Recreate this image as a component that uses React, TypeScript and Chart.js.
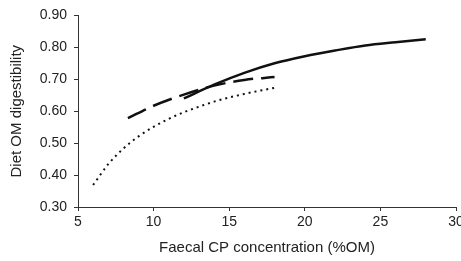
import React, { useEffect, useRef } from "react";
import { Chart, registerables } from "chart.js";

Chart.register(...registerables);

const solidX = [12, 14, 16, 18, 20, 22, 24, 26, 28];
const solidY = [0.64, 0.683, 0.72, 0.75, 0.772, 0.79, 0.806, 0.816, 0.825];

const dashedX = [8.3, 10, 12, 14, 16, 18];
const dashedY = [0.578, 0.617, 0.652, 0.68, 0.698, 0.707];

const dottedX = [6, 7, 8, 9, 10, 11, 12, 13, 14, 15, 16, 17, 18];
const dottedY = [0.369, 0.434, 0.483, 0.521, 0.551, 0.576, 0.597, 0.614, 0.63, 0.643, 0.654, 0.664, 0.673];

const xTicks = [5, 10, 15, 20, 25, 30];
const yTicks = [0.3, 0.4, 0.5, 0.6, 0.7, 0.8, 0.9];

const xTitle = "Faecal CP concentration (%OM)";
const yTitle = "Diet OM digestibility";

const toPoints = (xs: number[], ys: number[]) => xs.map((x, i) => ({ x, y: ys[i] }));

export default function App() {
  const ref = useRef<HTMLCanvasElement | null>(null);

  useEffect(() => {
    if (!ref.current) return;
    const family = "'Liberation Sans', Arial, sans-serif";
    const tickFont = { family, size: 14 };
    const titleFont = { family, size: 15 };
    const axisColor = "#333";
    const chart = new Chart(ref.current, {
      type: "line",
      data: {
        datasets: [
          {
            data: toPoints(solidX, solidY),
            borderColor: "#111",
            borderWidth: 2.5,
            pointRadius: 0,
            cubicInterpolationMode: "monotone",
          },
          {
            data: toPoints(dashedX, dashedY),
            borderColor: "#111",
            borderWidth: 2.5,
            borderDash: [20, 8],
            borderCapStyle: "butt",
            pointRadius: 0,
            cubicInterpolationMode: "monotone",
          },
          {
            data: toPoints(dottedX, dottedY),
            borderColor: "#111",
            borderWidth: 2,
            borderDash: [2, 4],
            borderCapStyle: "butt",
            pointRadius: 0,
            cubicInterpolationMode: "monotone",
          },
        ],
      },
      options: {
        animation: false,
        responsive: false,
        maintainAspectRatio: false,
        events: [],
        layout: { padding: { top: 14, right: 5, left: 0, bottom: 0 } },
        plugins: { legend: { display: false }, tooltip: { enabled: false } },
        scales: {
          x: {
            type: "linear",
            min: 5,
            max: 30,
            afterBuildTicks: (s: any) => {
              s.ticks = xTicks.map((v) => ({ value: v }));
            },
            afterFit: (s: any) => {
              s.height = 54;
              s.paddingLeft = 0;
              s.paddingRight = 0;
            },
            grid: { drawOnChartArea: false, drawTicks: true, tickLength: 4, color: axisColor },
            border: { display: true, color: axisColor, width: 1 },
            ticks: { color: "#222", font: tickFont, padding: 3, maxRotation: 0, callback: (v: any) => String(v) },
            title: { display: true, text: xTitle, color: "#222", font: titleFont, padding: { top: 0, bottom: 4 } },
          },
          y: {
            type: "linear",
            min: 0.3,
            max: 0.9,
            afterBuildTicks: (s: any) => {
              s.ticks = yTicks.map((v) => ({ value: v }));
            },
            afterFit: (s: any) => {
              s.width = 78;
            },
            grid: { drawOnChartArea: false, drawTicks: true, tickLength: 4, color: axisColor },
            border: { display: true, color: axisColor, width: 1 },
            ticks: { color: "#222", font: tickFont, padding: 7, callback: (v: any) => Number(v).toFixed(2) },
            title: { display: true, text: yTitle, color: "#222", font: titleFont, padding: { top: 8, bottom: 0 } },
          },
        },
      },
    } as any);
    return () => chart.destroy();
  }, []);

  return (
    <div style={{ position: "fixed", left: 0, top: 0, width: 461, height: 261, background: "#fff" }}>
      <canvas ref={ref} width={461} height={261} />
    </div>
  );
}
